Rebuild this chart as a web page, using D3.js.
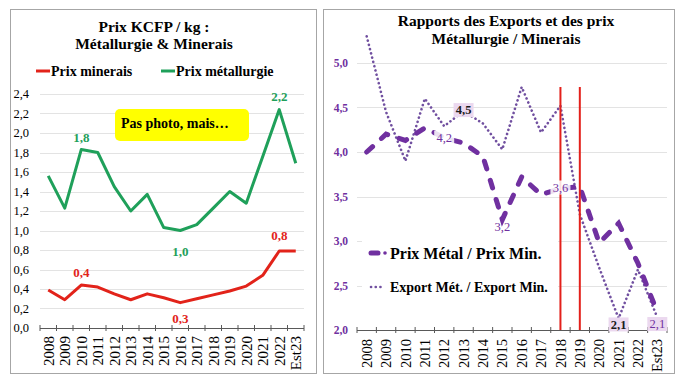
<!DOCTYPE html>
<html><head><meta charset="utf-8">
<script src="https://cdn.jsdelivr.net/npm/d3@7"></script>
<style>
body{margin:0;background:#fff}
svg{display:block}
text{font-family:"Liberation Serif","Times New Roman",serif}
</style>
</head><body>
<svg id="c" width="684" height="385"></svg>
<script>
// ---------- DATA ----------
const categories = ["2008","2009","2010","2011","2012","2013","2014","2015","2016","2017","2018","2019","2020","2021","2022","Est23"];
const prixMinerais    = [0.39,0.29,0.44,0.42,0.35,0.29,0.35,0.31,0.26,0.30,0.34,0.38,0.43,0.54,0.79,0.79];
const prixMetallurgie = [1.56,1.23,1.83,1.80,1.45,1.20,1.37,1.03,1.00,1.06,1.23,1.40,1.28,1.76,2.24,1.69];
const ratioPrix   = [4.00,4.20,4.13,4.27,4.16,4.10,3.95,3.24,3.72,3.52,3.59,3.61,2.98,3.20,2.75,2.20];
const ratioExport = [5.30,4.45,3.90,4.60,4.29,4.46,4.32,4.03,4.73,4.22,4.52,3.30,2.70,2.13,2.68,2.14];
const leftTicks  = [0,0.2,0.4,0.6,0.8,1.0,1.2,1.4,1.6,1.8,2.0,2.2,2.4];
const rightTicks = [2.0,2.5,3.0,3.5,4.0,4.5,5.0];
const markedYears = ["2018","2019"];
const leftTitle  = ["Prix KCFP / kg :","Métallurgie & Minerais"];
const rightTitle = ["Rapports des Exports et des prix","Métallurgie / Minerais"];

const fr = d3.formatLocale({decimal:",",thousands:" ",grouping:[3],currency:["","€"]});
const f1 = fr.format(".1f");

const svg = d3.select("#c");

// panels
svg.append("rect").attr("x",10.5).attr("y",9.5).attr("width",306).attr("height",364)
  .attr("fill","#fff").attr("stroke","#a6a6a6");
svg.append("rect").attr("x",323.5).attr("y",9.5).attr("width",351).attr("height",364)
  .attr("fill","#fff").attr("stroke","#a6a6a6");

// ---------- LEFT CHART ----------
const RED="#E2231A", GREEN="#1FA05A";
const xL = d3.scaleBand().domain(categories).range([40,304]);
const yL = d3.scaleLinear().domain([0,2.4]).range([328,94]);
const bL = xL.bandwidth()/2;
const gL = svg.append("g");

gL.selectAll(".grid").data(leftTicks.filter(t=>t>0)).join("line")
  .attr("x1",40).attr("x2",304).attr("y1",d=>Math.round(yL(d))+0.5).attr("y2",d=>Math.round(yL(d))+0.5)
  .attr("stroke","#e3e3e3");
gL.append("line").attr("x1",40).attr("x2",304).attr("y1",328.5).attr("y2",328.5).attr("stroke","#595959");
gL.selectAll(".tk").data(d3.range(categories.length+1)).join("line")
  .attr("x1",i=>40+i*xL.step()).attr("x2",i=>40+i*xL.step())
  .attr("y1",325).attr("y2",331).attr("stroke","#595959");
gL.selectAll(".yl").data(leftTicks).join("text")
  .attr("x",29).attr("y",d=>yL(d)).attr("dy","0.35em").attr("text-anchor","end")
  .attr("font-size",12.5).attr("fill","#000").text(d=>f1(d));
gL.selectAll(".xl").data(categories).join("text")
  .attr("transform",d=>`translate(${xL(d)+bL},336) rotate(-90)`)
  .attr("dy","0.35em").attr("text-anchor","end").attr("font-size",15).attr("fill","#000").text(d=>d);

const lineL = d3.line().x((d,i)=>xL(categories[i])+bL).y(d=>yL(d));
gL.append("path").attr("d",lineL(prixMetallurgie)).attr("fill","none").attr("stroke",GREEN)
  .attr("stroke-width",3).attr("stroke-linejoin","round");
gL.append("path").attr("d",lineL(prixMinerais)).attr("fill","none").attr("stroke",RED)
  .attr("stroke-width",3).attr("stroke-linejoin","round");

const labelsL = [
  {s:prixMetallurgie,c:"2010",dy:-12.5,col:GREEN},
  {s:prixMetallurgie,c:"2022",dy:-13.5,col:GREEN},
  {s:prixMetallurgie,c:"2016",dy:20.5,col:GREEN},
  {s:prixMinerais,c:"2010",dy:-13,col:RED},
  {s:prixMinerais,c:"2016",dy:15.5,col:RED},
  {s:prixMinerais,c:"2022",dy:-16,col:RED}
];
labelsL.forEach(l=>{
  const i=categories.indexOf(l.c);
  gL.append("text").attr("x",xL(l.c)+bL).attr("y",yL(l.s[i])+l.dy).attr("dy","0.35em")
    .attr("text-anchor","middle").attr("font-size",13).attr("font-weight","bold").attr("fill",l.col)
    .text(f1(l.s[i]));
});

// title
leftTitle.forEach((t,i)=>svg.append("text").attr("x",154).attr("y",31.5+i*17.5).attr("text-anchor","middle")
  .attr("font-size",15.5).attr("font-weight","bold").attr("fill","#000").text(t));
// legend
[[RED,"Prix minerais",36],[GREEN,"Prix métallurgie",161]].forEach(([c,t,x])=>{
  svg.append("line").attr("x1",x).attr("x2",x+14).attr("y1",71).attr("y2",71).attr("stroke",c).attr("stroke-width",3);
  svg.append("text").attr("x",x+15).attr("y",76).attr("font-size",14).attr("font-weight","bold").attr("fill","#000").text(t);
});
// yellow note
svg.append("rect").attr("x",115).attr("y",109).attr("width",134).attr("height",32).attr("rx",5)
  .attr("fill","#FFFF00");
svg.append("text").attr("x",121).attr("y",128).attr("font-size",14).attr("font-weight","bold")
  .attr("fill","#000").text("Pas photo, mais…");

// ---------- RIGHT CHART ----------
const PURPLE="#7030A0", DOT="#7150A0";
const xR = d3.scaleBand().domain(categories).range([357,667]);
const yR = d3.scaleLinear().domain([2,5]).range([330,63]);
const bR = xR.bandwidth()/2;
const gR = svg.append("g");

gR.selectAll(".grid").data(rightTicks.filter(t=>t>2)).join("line")
  .attr("x1",357).attr("x2",667).attr("y1",d=>Math.round(yR(d))+0.5).attr("y2",d=>Math.round(yR(d))+0.5)
  .attr("stroke","#e3e3e3");
gR.append("line").attr("x1",357).attr("x2",667).attr("y1",330.5).attr("y2",330.5).attr("stroke","#595959");
gR.selectAll(".tk").data(d3.range(categories.length+1)).join("line")
  .attr("x1",i=>357+i*xR.step()).attr("x2",i=>357+i*xR.step())
  .attr("y1",327).attr("y2",333).attr("stroke","#595959");
gR.selectAll(".yl").data(rightTicks).join("text")
  .attr("x",348).attr("y",d=>yR(d)).attr("dy","0.35em").attr("text-anchor","end")
  .attr("font-size",11.5).attr("font-weight","bold").attr("fill",PURPLE).text(d=>f1(d));
gR.selectAll(".xl").data(categories).join("text")
  .attr("transform",d=>`translate(${xR(d)+bR},339) rotate(-90)`)
  .attr("dy","0.35em").attr("text-anchor","end").attr("font-size",14.5).attr("fill","#000").text(d=>d);

// legend background
gR.append("rect").attr("x",362).attr("y",238).attr("width",196).attr("height",62).attr("fill","#fff");

const lineR = d3.line().x((d,i)=>xR(categories[i])+bR).y(d=>yR(d));
gR.append("path").attr("d",lineR(ratioExport)).attr("fill","none").attr("stroke",DOT)
  .attr("stroke-width",2.6).attr("stroke-dasharray","0.1 4.3").attr("stroke-linecap","round");
gR.append("path").attr("d",lineR(ratioPrix)).attr("fill","none").attr("stroke",PURPLE)
  .attr("stroke-width",5).attr("stroke-dasharray","8 12").attr("stroke-linecap","round");

// red vertical markers
gR.selectAll(".mk").data(markedYears).join("line")
  .attr("x1",d=>xR(d)+bR).attr("x2",d=>xR(d)+bR).attr("y1",87).attr("y2",330)
  .attr("stroke","#E3201B").attr("stroke-width",2);

// data labels
const labelsR = [
  {s:ratioExport,c:"2013",dy:-1,col:"#1a1a1a",bg:"#EBD8EF",bold:true},
  {s:ratioExport,c:"2021",dy:6,col:"#1a1a1a",bg:"#EBD8EF",bold:true},
  {s:ratioExport,c:"Est23",dy:6.5,col:PURPLE,bg:"#EBD8EF",bold:false},
  {s:ratioPrix,c:"2012",dy:0,col:PURPLE,bg:"rgba(255,255,255,0.85)",bold:false},
  {s:ratioPrix,c:"2015",dy:7,col:PURPLE,bg:null,bold:false},
  {s:ratioPrix,c:"2018",dy:-1,col:PURPLE,bg:"rgba(255,255,255,0.85)",bold:false}
];
labelsR.forEach(l=>{
  const i=categories.indexOf(l.c);
  const x=xR(l.c)+bR, y=yR(l.s[i])+l.dy;
  if(l.bg) gR.append("rect").attr("x",x-10).attr("y",y-7).attr("width",20).attr("height",14).attr("fill",l.bg);
  gR.append("text").attr("x",x).attr("y",y).attr("dy","0.35em").attr("text-anchor","middle")
    .attr("font-size",12.5).attr("font-weight",l.bold?"bold":"normal").attr("fill",l.col).text(f1(l.s[i]));
});

// legend items
gR.append("line").attr("x1",371).attr("x2",378).attr("y1",253).attr("y2",253).attr("stroke",PURPLE)
  .attr("stroke-width",5).attr("stroke-linecap","round");
gR.append("circle").attr("cx",385).attr("cy",253).attr("r",1.8).attr("fill",PURPLE);
gR.append("text").attr("x",390).attr("y",258.5).attr("font-size",16).attr("font-weight","bold").attr("fill","#000")
  .text("Prix Métal / Prix Min.");
gR.append("line").attr("x1",371).attr("x2",385).attr("y1",287).attr("y2",287).attr("stroke",DOT)
  .attr("stroke-width",2.6).attr("stroke-dasharray","0.1 4.6").attr("stroke-linecap","round");
gR.append("text").attr("x",390).attr("y",292).attr("font-size",14).attr("font-weight","bold").attr("fill","#000")
  .text("Export Mét. / Export Min.");

rightTitle.forEach((t,i)=>svg.append("text").attr("x",506).attr("y",26+i*17.5).attr("text-anchor","middle")
  .attr("font-size",15.5).attr("font-weight","bold").attr("fill","#000").text(t));
</script>
</body></html>
